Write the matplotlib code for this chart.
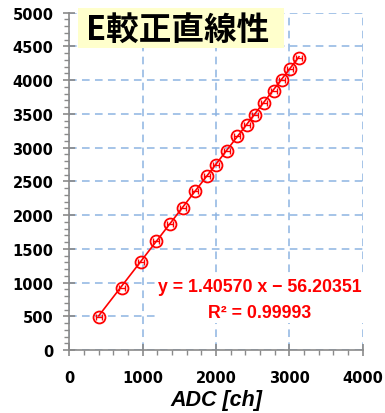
import matplotlib
matplotlib.use("Agg")
import numpy as np
import matplotlib.pyplot as plt
from matplotlib.patches import Rectangle
from matplotlib.ticker import MultipleLocator

# measured points: ADC channel vs energy
adc = [401, 718, 982, 1182, 1377, 1546, 1710, 1873, 1996, 2150,
       2290, 2423, 2536, 2650, 2787, 2896, 3009, 3132]
energy = [490, 925, 1310, 1615, 1868, 2110, 2360, 2582, 2748, 2945,
          3165, 3330, 3482, 3660, 3842, 4003, 4162, 4322]
adc_err = [40] * len(adc)

slope = 1.40570
intercept = -56.20351
r2 = 0.99993

title = "E較正直線性"
xlabel = "ADC [ch]"

grid_col = "#8db4e2"
spine_col = "#8a8a8a"

W, H = 385, 414
fig = plt.figure(figsize=(W / 100, H / 100), dpi=100)
ax = fig.add_axes([0.180, 0.152, 0.762, 0.815])

ax.set_xlim(0, 4000)
ax.set_ylim(0, 5000)
ax.xaxis.set_major_locator(MultipleLocator(1000))
ax.xaxis.set_minor_locator(MultipleLocator(200))
ax.yaxis.set_major_locator(MultipleLocator(500))
ax.yaxis.set_minor_locator(MultipleLocator(100))

ax.grid(True, which="major", color=grid_col, linestyle=(0, (5, 3.5)), linewidth=1.1, zorder=0)
for s in ("top", "right"):
    ax.spines[s].set_visible(False)
for s in ("left", "bottom"):
    ax.spines[s].set_color(spine_col)
    ax.spines[s].set_linewidth(1.2)
    ax.spines[s].set_zorder(3)

ax.tick_params(which="major", direction="inout", length=9, width=1.2, color=spine_col,
               labelsize=10.5)
ax.tick_params(which="minor", direction="out", length=3.5, width=1.0, color=spine_col)
ax.tick_params(axis="y", which="major", pad=7)
ax.tick_params(axis="x", which="major", pad=10)
for lab in ax.get_xticklabels() + ax.get_yticklabels():
    lab.set_fontweight("bold")

# fit line over the measured range
xf = np.array([min(adc), max(adc)])
ax.plot(xf, slope * xf + intercept, color="red", linewidth=1.2, zorder=4)

# data points with horizontal error bars inside open circles
ax.errorbar(adc, energy, xerr=adc_err, fmt="none", ecolor="red", elinewidth=1.0,
            capsize=2.2, capthick=1.0, zorder=5)
ax.plot(adc, energy, linestyle="none", marker="o", markersize=8.6,
        markerfacecolor="none", markeredgecolor="red", markeredgewidth=1.3, zorder=6)

ax.set_xlabel(xlabel, fontsize=15.5, fontweight="bold", fontstyle="italic",
              family="Liberation Sans", labelpad=3)

# title on a pale yellow panel
fig.patches.append(Rectangle((78 / W, 1 - 49 / H), 206 / W, 40 / H,
                             transform=fig.transFigure, facecolor="#ffffcc",
                             edgecolor="none", zorder=9))
fig.text(178 / W, 1 - 30 / H, title, fontsize=23.5, fontweight="bold", fontstyle="italic",
         family=["Noto Sans CJK JP", "DejaVu Sans"], ha="center", va="center",
         zorder=10)

# regression equation
eq = f"y = {slope:.5f} x \u2212 {abs(intercept):.5f}\nR\u00b2 = {r2:.5f}"
ax.text(0.648, 0.150, eq, transform=ax.transAxes, fontsize=12.8, fontweight="bold",
        color="red", family="Liberation Sans", ha="center", va="center",
        linespacing=1.72,
        bbox=dict(boxstyle="square,pad=0.1", facecolor="white", edgecolor="none"),
        zorder=7)

fig.savefig("out.png", dpi=100)
